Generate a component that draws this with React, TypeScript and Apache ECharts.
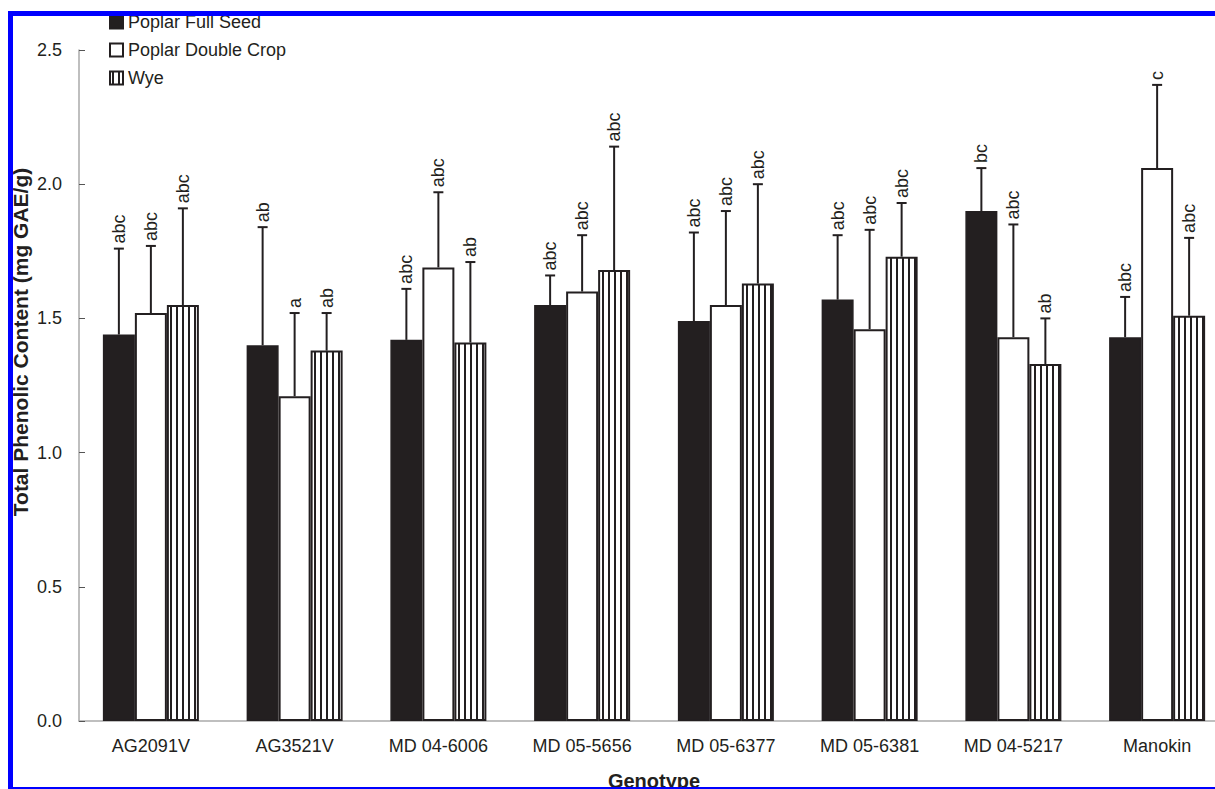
import React, { useEffect, useRef } from "react";
import * as echarts from "echarts";

// Genotypes on the category axis
const genotypes = [
  "AG2091V",
  "AG3521V",
  "MD 04-6006",
  "MD 05-5656",
  "MD 05-6377",
  "MD 05-6381",
  "MD 04-5217",
  "Manokin",
];

const seriesNames = ["Poplar Full Seed", "Poplar Double Crop", "Wye"];

// Mean total phenolic content (mg GAE/g) per location
const fullSeed = [1.44, 1.4, 1.42, 1.55, 1.49, 1.57, 1.9, 1.43];
const doubleCrop = [1.52, 1.21, 1.69, 1.6, 1.55, 1.46, 1.43, 2.06];
const wye = [1.55, 1.38, 1.41, 1.68, 1.63, 1.73, 1.33, 1.51];

// Standard deviations (upper error bars)
const fullSeedErr = [0.32, 0.44, 0.19, 0.11, 0.33, 0.24, 0.16, 0.15];
const doubleCropErr = [0.25, 0.31, 0.28, 0.21, 0.35, 0.37, 0.42, 0.31];
const wyeErr = [0.36, 0.14, 0.3, 0.46, 0.37, 0.2, 0.17, 0.29];

// Significance letters above each error bar
const fullSeedLetters = ["abc", "ab", "abc", "abc", "abc", "abc", "bc", "abc"];
const doubleCropLetters = ["abc", "a", "abc", "abc", "abc", "abc", "abc", "c"];
const wyeLetters = ["abc", "ab", "ab", "abc", "abc", "abc", "ab", "abc"];

const yTicks = [0, 0.5, 1.0, 1.5, 2.0, 2.5];

const INK = "#231f20";
const FONT = '"Liberation Sans", Arial, sans-serif';
const BAR_W = 32;

function stripePattern(): HTMLCanvasElement {
  const c = document.createElement("canvas");
  c.width = 6;
  c.height = 6;
  const ctx = c.getContext("2d")!;
  ctx.fillStyle = "#ffffff";
  ctx.fillRect(0, 0, 6, 6);
  ctx.fillStyle = INK;
  ctx.fillRect(2, 0, 2, 6);
  return c;
}

function errorSeries(
  name: string,
  values: number[],
  errs: number[],
  letters: string[],
  offset: number
) {
  return {
    type: "custom",
    name: name + " error",
    z: 5,
    encode: { x: 0, y: 1 },
    data: values.map((v, i) => [i, v, errs[i]]),
    renderItem: (params: any, api: any) => {
      const idx = api.value(0);
      const v = api.value(1);
      const e = api.value(2);
      const base = api.coord([idx, v]);
      const top = api.coord([idx, v + e]);
      const x = base[0] + offset;
      return {
        type: "group",
        children: [
          {
            type: "line",
            shape: { x1: x, y1: base[1], x2: x, y2: top[1] },
            style: { stroke: INK, lineWidth: 2 },
          },
          {
            type: "line",
            shape: { x1: x - 5, y1: top[1], x2: x + 5, y2: top[1] },
            style: { stroke: INK, lineWidth: 2 },
          },
          {
            type: "text",
            x: x,
            y: top[1] - 5,
            rotation: Math.PI / 2,
            style: {
              text: letters[params.dataIndex],
              fill: INK,
              font: `18px ${FONT}`,
              align: "left",
              verticalAlign: "middle",
            },
          },
        ],
      };
    },
  };
}

export default function App() {
  const ref = useRef<HTMLDivElement>(null);

  useEffect(() => {
    if (!ref.current) return;
    const chart = echarts.init(ref.current, null, { renderer: "svg" });
    const stripes = stripePattern();

    const option: any = {
      animation: false,
      backgroundColor: "#ffffff",
      textStyle: { fontFamily: FONT, color: INK },
      grid: {
        left: 79,
        right: -14,
        top: 50,
        bottom: 68,
        containLabel: false,
        outerBoundsMode: "none",
      },
      legend: {
        orient: "vertical",
        left: 104,
        top: 8,
        itemWidth: 13,
        itemHeight: 13,
        itemGap: 10,
        icon: "rect",
        data: seriesNames,
        textStyle: { fontSize: 18, color: INK, fontFamily: FONT },
      },
      xAxis: {
        type: "category",
        data: genotypes,
        name: "Genotype",
        nameLocation: "middle",
        nameGap: 50,
        nameTextStyle: { fontSize: 20, fontWeight: "bold", color: INK, fontFamily: FONT },
        axisLine: { lineStyle: { color: "#aaaaaa", width: 1.5 } },
        axisTick: { show: false },
        axisLabel: { fontSize: 18, color: INK, margin: 16, fontFamily: FONT },
      },
      yAxis: {
        type: "value",
        min: yTicks[0],
        max: yTicks[yTicks.length - 1],
        interval: 0.5,
        axisLine: { show: true, lineStyle: { color: "#aaaaaa", width: 1.5 } },
        axisTick: { show: true, inside: true, length: 6, lineStyle: { color: "#555555" } },
        splitLine: { show: false },
        axisLabel: {
          fontSize: 18,
          color: INK,
          margin: 17,
          fontFamily: FONT,
          formatter: (v: number) => v.toFixed(1),
        },
      },
      series: [
        {
          type: "bar",
          name: seriesNames[0],
          data: fullSeed,
          barWidth: BAR_W,
          barGap: "0%",
          itemStyle: { color: INK, borderColor: INK, borderWidth: 1.5 },
        },
        {
          type: "bar",
          name: seriesNames[1],
          data: doubleCrop,
          barWidth: BAR_W,
          barGap: "0%",
          itemStyle: { color: "#ffffff", borderColor: INK, borderWidth: 2 },
        },
        {
          type: "bar",
          name: seriesNames[2],
          data: wye,
          barWidth: BAR_W,
          barGap: "0%",
          itemStyle: {
            color: { image: stripes, repeat: "repeat" },
            borderColor: INK,
            borderWidth: 2,
          },
        },
        errorSeries(seriesNames[0], fullSeed, fullSeedErr, fullSeedLetters, -BAR_W),
        errorSeries(seriesNames[1], doubleCrop, doubleCropErr, doubleCropLetters, 0),
        errorSeries(seriesNames[2], wye, wyeErr, wyeLetters, BAR_W),
      ],
      graphic: [
        {
          type: "text",
          x: 20,
          y: 342,
          rotation: Math.PI / 2,
          z: 10,
          style: {
            text: "Total Phenolic Content (mg GAE/g)",
            font: `bold 21px ${FONT}`,
            fill: INK,
            align: "center",
            verticalAlign: "middle",
          },
        },
        {
          type: "rect",
          z: 100,
          shape: { x: 10.5, y: 13.5, width: 1215, height: 776 },
          style: { fill: "none", stroke: "#0000ff", lineWidth: 5 },
        },
      ],
    };

    chart.setOption(option);
    return () => chart.dispose();
  }, []);

  return (
    <div
      ref={ref}
      style={{ position: "fixed", left: 0, top: 0, width: 1215, height: 789 }}
    />
  );
}
